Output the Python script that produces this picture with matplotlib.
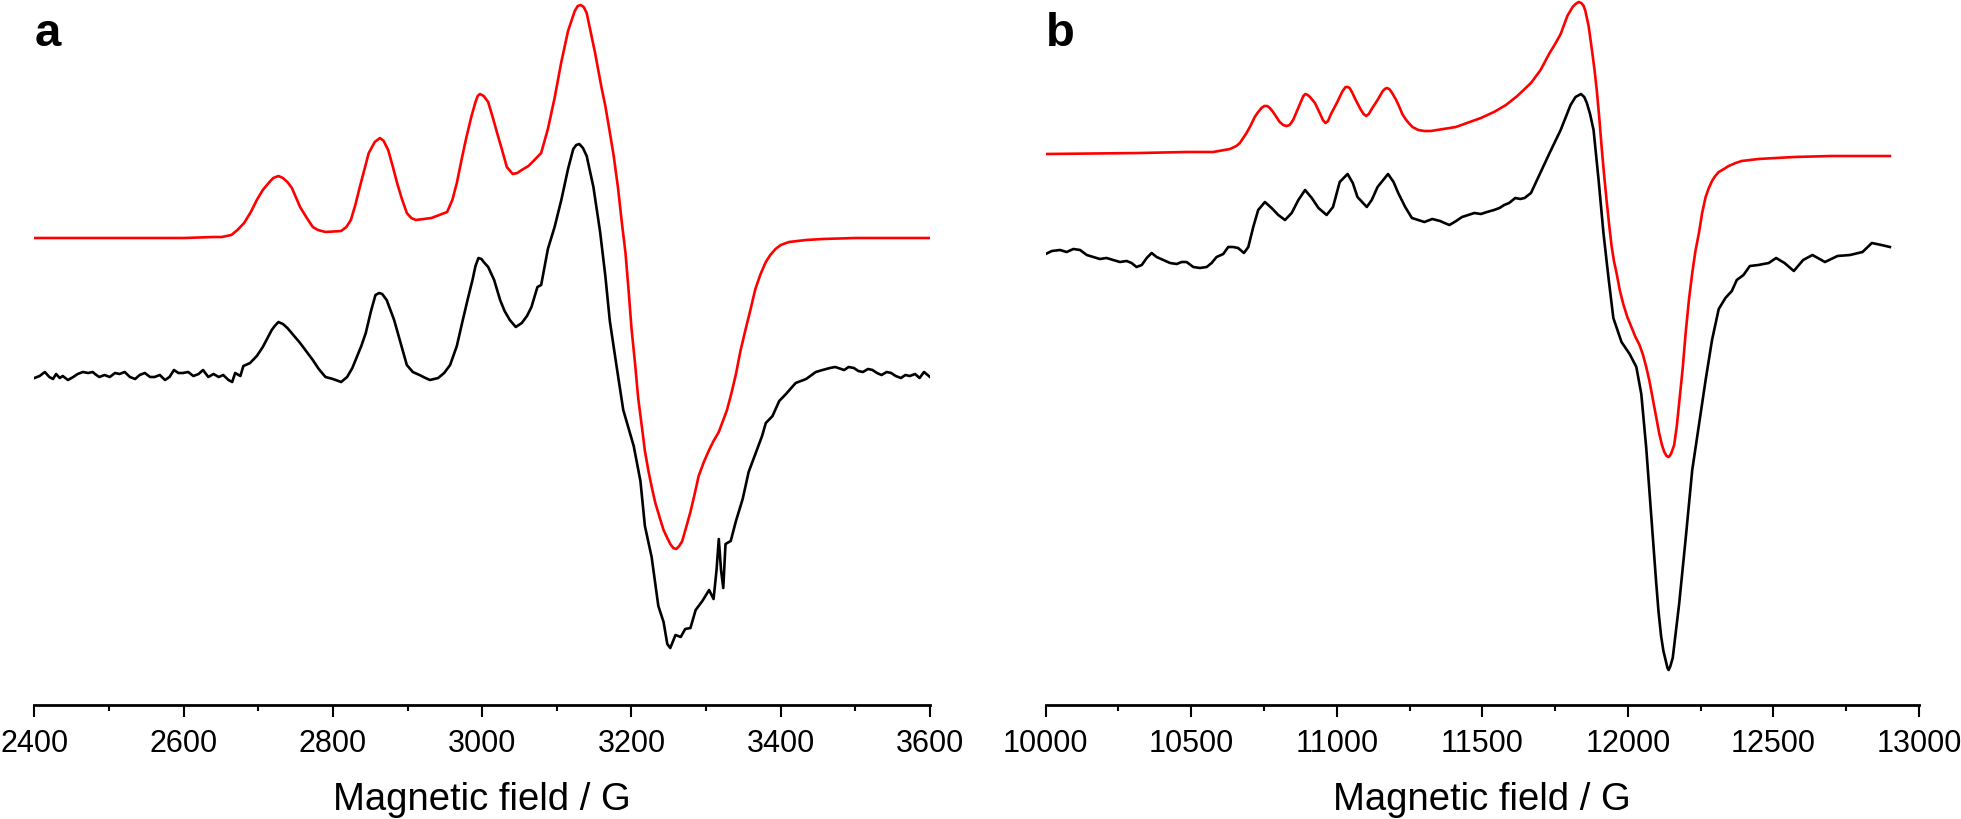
import numpy as np
import matplotlib
matplotlib.use("Agg")
from matplotlib import pyplot as plt
from matplotlib.ticker import MultipleLocator

plt.rcParams['font.family'] = ['Liberation Sans', 'DejaVu Sans']

# --- Panel a : experimental spectrum (field / G, intensity a.u.)
a_exp = [(2400, -2), (2407, 0), (2414, 4), (2420, -1), (2425, -3), (2429, 2), (2434, -2),
         (2438, 0), (2445, -4), (2452, -1), (2458, 2), (2465, 4), (2472, 3), (2478, 4),
         (2483, 1), (2487, -1), (2494, 1), (2501, -1), (2508, 3), (2514, 2), (2521, 4),
         (2528, -1), (2535, -3), (2541, 1), (2548, 3), (2555, -1), (2561, -1), (2568, 1),
         (2575, -4), (2581, -1), (2587, 6), (2593, 3), (2599, 3), (2606, 4), (2613, 0),
         (2620, 2), (2626, 6), (2633, -1), (2640, 2), (2647, -1), (2653, 1), (2660, -4),
         (2665, -6), (2669, 3), (2676, 0), (2680, 10), (2689, 13), (2698, 20), (2706, 29),
         (2718, 46), (2722, 50), (2727, 54), (2733, 52), (2739, 48), (2748, 40), (2756, 33),
         (2765, 24), (2773, 16), (2781, 7), (2790, -1), (2800, -3), (2811, -6), (2819, -1),
         (2826, 8), (2832, 19), (2838, 30), (2844, 43), (2851, 65), (2857, 81), (2862, 83),
         (2866, 82), (2872, 76), (2882, 56), (2890, 35), (2899, 11), (2907, 4), (2916, 1),
         (2924, -2), (2930, -4), (2941, -2), (2949, 3), (2957, 11), (2966, 30), (2974, 56),
         (2981, 78), (2987, 96), (2991, 110), (2995, 118), (2999, 117), (3002, 114),
         (3008, 109), (3016, 96), (3024, 76), (3030, 65), (3037, 56), (3045, 49), (3053, 53),
         (3060, 60), (3066, 69), (3074, 89), (3079, 91), (3088, 127), (3097, 149),
         (3106, 176), (3115, 207), (3122, 227), (3126, 231), (3130, 232), (3135, 228),
         (3140, 220), (3149, 189), (3158, 144), (3165, 100), (3171, 55), (3180, 10),
         (3189, -34), (3196, -52), (3203, -70), (3212, -105), (3218, -150), (3227, -181),
         (3236, -230), (3243, -246), (3248, -268), (3252, -272), (3259, -259), (3266, -261),
         (3272, -253), (3279, -252), (3286, -234), (3295, -225), (3304, -214), (3310, -223),
         (3314, -194), (3317, -163), (3320, -194), (3323, -212), (3326, -168), (3333, -165),
         (3340, -145), (3349, -123), (3357, -96), (3366, -78), (3375, -60), (3380, -47),
         (3389, -40), (3398, -25), (3407, -18), (3420, -7), (3434, -3), (3447, 4), (3456, 6),
         (3466, 8), (3473, 9), (3485, 6), (3491, 9), (3498, 8), (3504, 5), (3510, 4),
         (3517, 7), (3523, 6), (3529, 3), (3535, 1), (3542, 4), (3548, 3), (3554, 0),
         (3561, -2), (3567, 1), (3573, 0), (3580, 2), (3586, -2), (3592, 4), (3600, -1)]

# --- Panel a : simulated spectrum
a_sim = [(2400, 0), (2500, 0), (2600, 0), (2640, 1), (2651, 1), (2664, 3), (2672, 8),
         (2681, 15), (2690, 26), (2698, 38), (2706, 48), (2715, 56), (2720, 60), (2727, 62),
         (2733, 60), (2739, 56), (2745, 50), (2756, 31), (2765, 20), (2773, 11), (2780, 8),
         (2790, 6), (2811, 7), (2818, 11), (2824, 18), (2830, 33), (2836, 51), (2842, 68),
         (2848, 85), (2856, 96), (2863, 100), (2868, 97), (2874, 88), (2880, 72), (2886, 55),
         (2892, 40), (2899, 25), (2905, 20), (2911, 18), (2932, 20), (2953, 26), (2960, 38),
         (2966, 55), (2972, 77), (2978, 98), (2985, 120), (2991, 136), (2994, 142),
         (2997, 144), (3002, 142), (3008, 136), (3014, 121), (3020, 105), (3027, 87),
         (3033, 71), (3041, 64), (3047, 65), (3053, 68), (3062, 72), (3070, 78), (3079, 85),
         (3088, 109), (3097, 140), (3106, 176), (3115, 207), (3124, 227), (3128, 232),
         (3132, 233), (3136, 231), (3140, 225), (3151, 186), (3160, 150), (3165, 132),
         (3170, 110), (3176, 83), (3182, 50), (3187, 16), (3192, -15), (3196, -51),
         (3200, -90), (3205, -127), (3209, -160), (3214, -189), (3218, -213), (3223, -234),
         (3228, -252), (3232, -265), (3238, -280), (3243, -292), (3248, -300), (3252, -306),
         (3256, -310), (3260, -311), (3264, -308), (3268, -303), (3273, -290), (3279, -274),
         (3285, -255), (3290, -238), (3297, -224), (3304, -212), (3310, -203), (3317, -194),
         (3322, -184), (3328, -172), (3334, -155), (3340, -136), (3346, -113), (3353, -91),
         (3360, -70), (3366, -51), (3373, -36), (3380, -24), (3386, -17), (3393, -11),
         (3400, -7), (3411, -4), (3434, -2), (3456, -1), (3500, 0), (3600, 0)]

# --- Panel b : experimental spectrum
b_exp = [(10000, 1), (10021, 4), (10049, 5), (10072, 3), (10095, 6), (10118, 5), (10141, 0),
         (10164, -2), (10186, -4), (10209, -3), (10232, -5), (10255, -7), (10278, -6),
         (10295, -8), (10312, -12), (10330, -10), (10347, -3), (10364, 2), (10381, -2),
         (10404, -5), (10427, -8), (10450, -9), (10467, -7), (10484, -7), (10507, -12),
         (10530, -13), (10553, -12), (10570, -8), (10587, -2), (10610, 1), (10627, 8),
         (10644, 8), (10661, 7), (10681, 2), (10696, 8), (10713, 28), (10730, 45), (10753, 53),
         (10776, 47), (10799, 40), (10822, 35), (10845, 42), (10868, 55), (10891, 65),
         (10914, 57), (10937, 47), (10965, 40), (10987, 48), (11010, 73), (11037, 81),
         (11055, 72), (11071, 58), (11103, 48), (11120, 55), (11140, 68), (11176, 81),
         (11195, 73), (11211, 62), (11235, 48), (11258, 37), (11280, 35), (11301, 33),
         (11328, 36), (11355, 34), (11370, 32), (11387, 30), (11410, 34), (11430, 38),
         (11452, 40), (11473, 42), (11495, 41), (11516, 43), (11540, 45), (11559, 47),
         (11575, 50), (11592, 52), (11613, 57), (11630, 56), (11645, 57), (11667, 62),
         (11699, 82), (11731, 102), (11769, 125), (11803, 150), (11820, 158), (11839, 161),
         (11850, 158), (11859, 152), (11870, 141), (11882, 125), (11899, 76), (11916, 22),
         (11933, -22), (11950, -63), (11978, -87), (12006, -99), (12029, -112), (12046, -139),
         (12063, -193), (12080, -260), (12097, -327), (12105, -356), (12114, -381),
         (12122, -396), (12131, -407), (12136, -413), (12140, -415), (12146, -411),
         (12154, -403), (12176, -349), (12199, -282), (12221, -215), (12244, -170),
         (12267, -125), (12289, -85), (12312, -54), (12335, -43), (12357, -36), (12374, -25),
         (12397, -20), (12419, -11), (12448, -10), (12484, -8), (12509, -3), (12538, -8),
         (12570, -16), (12602, -5), (12634, 0), (12677, -7), (12720, -1), (12763, 0),
         (12806, 3), (12838, 12), (12871, 10), (12900, 8)]

# --- Panel b : simulated spectrum
b_sim = [(10000, 0), (10324, 1), (10484, 2), (10575, 2), (10633, 5), (10655, 8), (10667, 11),
         (10690, 21), (10705, 29), (10718, 37), (10730, 42), (10741, 46), (10751, 48),
         (10761, 48), (10770, 46), (10781, 42), (10804, 32), (10816, 29), (10827, 28),
         (10838, 29), (10850, 34), (10879, 54), (10885, 58), (10892, 60), (10900, 59),
         (10908, 57), (10925, 51), (10943, 40), (10952, 34), (10961, 31), (10970, 33),
         (10980, 40), (11000, 51), (11020, 63), (11030, 67), (11037, 67), (11044, 66),
         (11052, 62), (11065, 54), (11083, 44), (11092, 40), (11101, 38), (11110, 40),
         (11120, 45), (11140, 54), (11158, 63), (11165, 65), (11172, 66), (11180, 65),
         (11188, 62), (11204, 54), (11215, 47), (11225, 40), (11236, 35), (11247, 31),
         (11260, 27), (11280, 24), (11300, 23), (11323, 23), (11409, 27), (11495, 36),
         (11540, 42), (11581, 49), (11620, 58), (11667, 71), (11700, 84), (11731, 101),
         (11750, 110), (11769, 120), (11792, 138), (11810, 147), (11820, 150), (11831, 152),
         (11840, 151), (11848, 148), (11854, 143), (11865, 128), (11876, 105), (11885, 85),
         (11893, 64), (11902, 35), (11910, 6), (11918, -20), (11927, -47), (11936, -72),
         (11944, -92), (11952, -107), (11961, -119), (11972, -136), (11984, -150),
         (11998, -163), (12012, -173), (12026, -183), (12040, -191), (12052, -201),
         (12063, -213), (12074, -227), (12085, -244), (12097, -263), (12108, -280),
         (12117, -291), (12125, -298), (12133, -302), (12140, -303), (12148, -300),
         (12159, -291), (12168, -272), (12176, -249), (12188, -215), (12199, -177),
         (12210, -145), (12221, -119), (12232, -97), (12244, -79), (12255, -59), (12267, -43),
         (12278, -34), (12289, -27), (12300, -22), (12312, -18), (12330, -15), (12346, -12),
         (12370, -9), (12391, -7), (12420, -6), (12448, -5), (12570, -3), (12700, -2),
         (12900, -2)]

xlabel = "Magnetic field / G"

fig = plt.figure(figsize=(19.61, 8.19), dpi=100)
ax_a = fig.add_axes([34.4 / 1961, 114 / 819, 895.6 / 1961, 705 / 819])
ax_b = fig.add_axes([1045.7 / 1961, 114 / 819, 873.3 / 1961, 705 / 819])

panels = [
    (ax_a, a_exp, a_sim, 138, (-329, 376), (2400, 3600), 200, 100, "a"),
    (ax_b, b_exp, b_sim, 101, (-450, 255), (10000, 13000), 500, 250, "b"),
]

for ax, exp, sim, offset, ylim, xlim, major, minor, tag in panels:
    ex = np.array(exp, dtype=float)
    si = np.array(sim, dtype=float)
    ax.plot(ex[:, 0], ex[:, 1], color='black', lw=1.9, solid_joinstyle='round')
    ax.plot(si[:, 0], si[:, 1] + offset, color='#ff0000', lw=1.9, solid_joinstyle='round')
    ax.set_xlim(*xlim)
    ax.set_ylim(*ylim)
    for s in ['top', 'right', 'left']:
        ax.spines[s].set_visible(False)
    ax.spines['bottom'].set_linewidth(2.0)
    ax.set_yticks([])
    ax.xaxis.set_major_locator(MultipleLocator(major))
    ax.xaxis.set_minor_locator(MultipleLocator(minor))
    ax.tick_params(axis='x', which='major', direction='out', length=8.5, width=1.5,
                   labelsize=22, pad=9)
    ax.tick_params(axis='x', which='minor', direction='out', length=4, width=1.5)
    ax.set_xlabel(xlabel, fontsize=27.5, labelpad=16)
    ax.patch.set_alpha(0)
    fig.text(ax.get_position().x0, 1 - 46 / 819, tag, fontsize=34, fontweight='bold',
             ha='left', va='baseline')

fig.savefig('out.png', dpi=100)
